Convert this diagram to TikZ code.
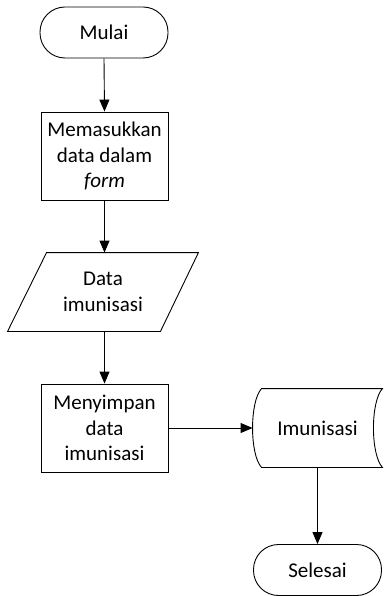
\documentclass[tikz,border=0pt]{standalone}
\usepackage{fontspec}
\setmainfont{Carlito}
\usepackage{tikz}
\usetikzlibrary{arrows.meta, calc}

\begin{document}
\begin{tikzpicture}[x=1pt, y=-1pt, >={Triangle[length=12pt, width=10pt]},
    every node/.style={font=\fontsize{21}{25.5}\selectfont, align=center, line width=0.9pt},
    terminal/.style={draw, rectangle, rounded corners=25pt, minimum width=128pt, minimum height=51pt},
    process/.style={draw, rectangle, minimum width=127pt, minimum height=88pt, inner sep=0pt},
    io/.style={rectangle, minimum width=190pt, minimum height=78pt, inner sep=0pt},
    store/.style={rectangle, minimum width=129pt, minimum height=78pt, inner sep=0pt},
    line/.style={line width=0.9pt}]
    %\draw[step=10, gray, very thin] (0, 0) grid (384, 596);
    \useasboundingbox (0, 0) rectangle (384, 596);

    \node[terminal] (mulai) at (104, 32.5) {Mulai};
    \node[process] (form) at (104.5, 156) {Memasukkan\\data dalam\\\textit{form}};
    \node[io] (data) at (103, 292) {Data\\imunisasi};
    \node[process] (simpan) at (104.5, 428) {Menyimpan\\data\\imunisasi};
    \node[store] (db) at (317.5, 428) {Imunisasi};
    \node[terminal] (selesai) at (317.5, 570) {Selesai};

    % parallelogram round the data node
    \draw[line] ([xshift=39pt]data.north west) -- (data.north east)
      -- ([xshift=-38pt]data.south east) -- (data.south west) -- cycle;

    % stored data round the db node
    \draw[line] ([xshift=9pt]db.north west) -- (db.north east)
      .. controls ([xshift=-12pt, yshift=-13pt]db.north east) and ([xshift=-12pt, yshift=13pt]db.south east) .. (db.south east)
      -- ([xshift=9pt]db.south west)
      .. controls ([xshift=-3pt, yshift=13pt]db.south west) and ([xshift=-3pt, yshift=-13pt]db.north west) .. cycle;

    \draw[->, line] (mulai.south) -- (form.north);
    \draw[->, line] (form.south) -- (form.south |- data.north);
    \draw[->, line] (form.south |- data.south) -- (simpan.north);
    \draw[->, line] (simpan.east) -- (db.west);
    \draw[->, line] (db.south) -- (selesai.north);

  \end{tikzpicture}
\end{document}
